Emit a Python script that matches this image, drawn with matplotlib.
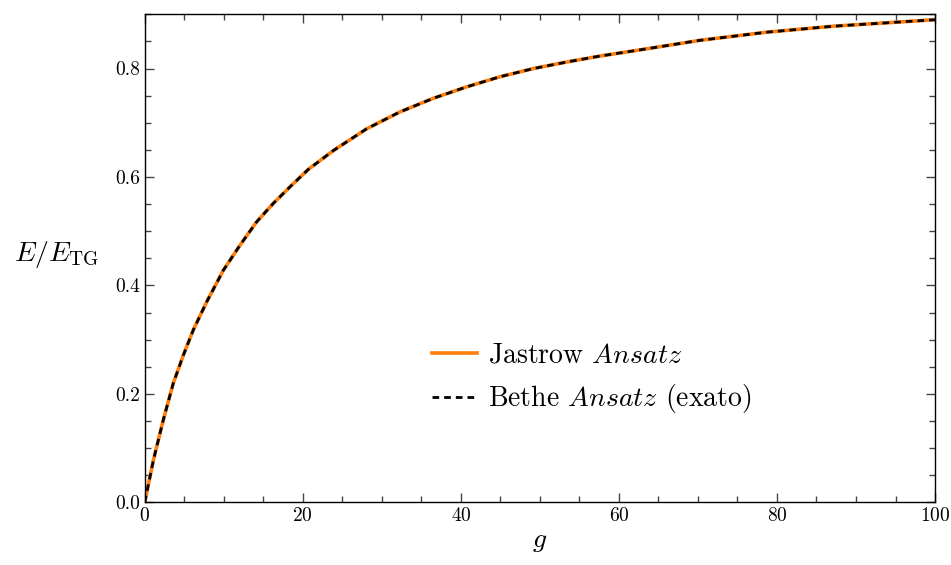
import matplotlib
matplotlib.use("Agg")
import matplotlib.pyplot as plt
import numpy as np
from matplotlib.ticker import MultipleLocator, AutoMinorLocator, FormatStrFormatter

# ==========================================
# Data
# ==========================================
g_values = [0, 1.1, 2.35, 3.6, 4.9, 6.15, 7.85, 9.95, 12.05, 14.15, 16.25,
            18.4, 20.7, 23.9, 28.1, 32.3, 36.5, 40.7, 45.0, 49.2, 53.4,
            57.6, 62.5, 70.25, 78.7, 87.1, 100]
energy_jastrow = [0.0, 0.078, 0.152, 0.219, 0.272, 0.318, 0.370, 0.428, 0.474,
                  0.517, 0.551, 0.582, 0.614, 0.649, 0.689, 0.720, 0.745,
                  0.766, 0.785, 0.800, 0.812, 0.823, 0.834, 0.852, 0.867,
                  0.878, 0.890]
energy_bethe = [0.0, 0.078, 0.152, 0.219, 0.272, 0.318, 0.370, 0.428, 0.474,
                0.517, 0.551, 0.582, 0.614, 0.649, 0.689, 0.720, 0.745,
                0.766, 0.785, 0.800, 0.812, 0.823, 0.834, 0.852, 0.867,
                0.878, 0.890]

labels = [r"Jastrow $\mathit{Ansatz}$", r"Bethe $\mathit{Ansatz}$ (exato)"]

# ==========================================
# Styling
# ==========================================
plt.rcParams["font.family"] = "serif"
plt.rcParams["font.serif"] = ["cmr10", "DejaVu Serif"]
plt.rcParams["mathtext.fontset"] = "cm"
plt.rcParams["axes.formatter.use_mathtext"] = True

fig = plt.figure(figsize=(9.51, 5.65), dpi=100)
ax = fig.add_axes([0.1522, 0.111, 0.831, 0.8637])

ax.plot(g_values, energy_jastrow, color="#ff7f0e", lw=2.6, label=labels[0])
ax.plot(g_values, energy_bethe, color="black", lw=2.0, ls=(0, (2.4, 1.8)),
        label=labels[1])

ax.set_xlim(0, 100)
ax.set_ylim(0, 0.9)
ax.xaxis.set_major_locator(MultipleLocator(20))
ax.xaxis.set_minor_locator(AutoMinorLocator(4))
ax.yaxis.set_major_locator(MultipleLocator(0.2))
ax.yaxis.set_minor_locator(AutoMinorLocator(4))
ax.yaxis.set_major_formatter(FormatStrFormatter("%.1f"))

ax.tick_params(which="both", direction="in", top=True, right=True,
               labelsize=14, width=1.0, color="#444444")
ax.tick_params(which="major", length=6.5)
ax.tick_params(which="minor", length=4)
for spine in ax.spines.values():
    spine.set_linewidth(1.0)

ax.set_xlabel(r"$g$", fontsize=20, labelpad=2)
ax.set_ylabel(r"$E/E_{\rm TG}$", fontsize=20, rotation=0, ha="right", va="center")
ax.yaxis.set_label_coords(-0.057, 0.507)

ax.legend(loc="upper left", bbox_to_anchor=(0.35, 0.351), borderaxespad=0,
          frameon=False, fontsize=20, handlelength=1.6, handletextpad=0.4,
          labelspacing=0.5)

fig.savefig("out.png", dpi=100)
